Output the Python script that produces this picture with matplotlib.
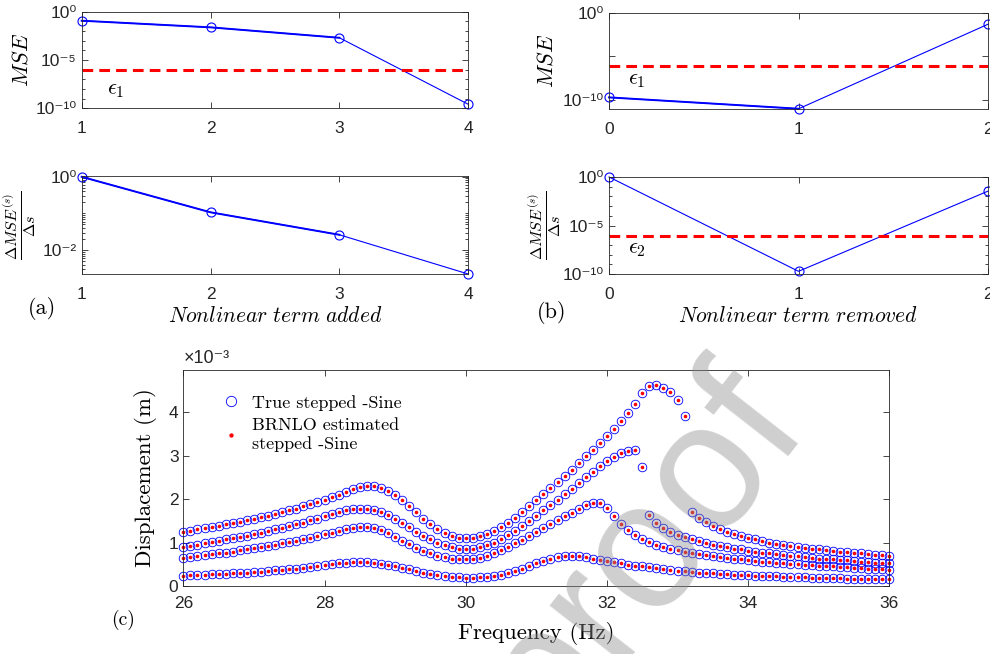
import numpy as np
import matplotlib
matplotlib.use('Agg')
import matplotlib.pyplot as plt
from matplotlib.ticker import LogLocator, NullFormatter, FuncFormatter

plt.rcParams['font.family'] = ['Liberation Sans', 'DejaVu Sans']
plt.rcParams['mathtext.fontset'] = 'cm'

# ---- (a) forward selection ----
added_terms = [1, 2, 3, 4]
mse_added = [0.117, 0.024, 2.0e-3, 2.6e-10]
dmse_added = [1.0, 0.107, 0.026, 0.0022]
eps1_a = 1.0e-6

# ---- (b) backward elimination ----
removed_terms = [0, 1, 2]
mse_removed = [2.0e-10, 1.0e-11, 0.05]
dmse_removed = [1.0, 1.9e-10, 0.035]
eps1_b = 8.5e-7
eps2_b = 8.0e-7

# ---- (c) stepped-sine responses, 0.1 Hz steps from 26 to 36 Hz (x 1e-3 m) ----
freq = np.arange(260, 361) / 10
disp_a = [1.24, 1.27, 1.30, 1.33, 1.36, 1.39, 1.42, 1.45, 1.48, 1.52,
          1.55, 1.59, 1.62, 1.66, 1.70, 1.74, 1.78, 1.83, 1.88, 1.93,
          1.98, 2.04, 2.10, 2.16, 2.22, 2.27, 2.30, 2.29, 2.25, 2.18,
          2.09, 1.98, 1.85, 1.70, 1.55, 1.42, 1.30, 1.21, 1.15, 1.11,
          1.10, 1.11, 1.14, 1.20, 1.27, 1.36, 1.46, 1.57, 1.70, 1.84,
          1.98, 2.12, 2.26, 2.40, 2.54, 2.68, 2.83, 2.98, 3.13, 3.28,
          3.44, 3.61, 3.79, 3.98, 4.19, 4.43, 4.60, 4.63, 4.56, 4.46,
          4.28, 3.90, 1.71, 1.57, 1.47, 1.39, 1.32, 1.25, 1.20, 1.15,
          1.10, 1.07, 1.03, 1.00, 0.97, 0.94, 0.92, 0.90, 0.88, 0.86,
          0.84, 0.82, 0.81, 0.79, 0.78, 0.76, 0.75, 0.74, 0.72, 0.71,
          0.70]
disp_b = [0.89, 0.92, 0.95, 0.98, 1.01, 1.04, 1.07, 1.10, 1.13, 1.16,
          1.19, 1.23, 1.26, 1.30, 1.34, 1.38, 1.42, 1.46, 1.51, 1.55,
          1.60, 1.65, 1.70, 1.74, 1.77, 1.78, 1.78, 1.75, 1.70, 1.63,
          1.55, 1.45, 1.35, 1.25, 1.16, 1.08, 1.00, 0.94, 0.89, 0.86,
          0.85, 0.86, 0.89, 0.94, 1.00, 1.08, 1.17, 1.27, 1.38, 1.50,
          1.62, 1.74, 1.86, 1.98, 2.11, 2.24, 2.37, 2.50, 2.63, 2.76,
          2.87, 2.97, 3.05, 3.11, 3.14, 2.73, 1.63, 1.45, 1.33, 1.25,
          1.18, 1.12, 1.07, 1.03, 0.99, 0.95, 0.92, 0.89, 0.86, 0.84,
          0.81, 0.79, 0.77, 0.75, 0.73, 0.71, 0.69, 0.68, 0.66, 0.65,
          0.63, 0.62, 0.61, 0.60, 0.59, 0.57, 0.56, 0.55, 0.54, 0.53,
          0.52]
disp_c = [0.65, 0.67, 0.69, 0.71, 0.73, 0.75, 0.77, 0.79, 0.82, 0.84,
          0.87, 0.89, 0.92, 0.95, 0.98, 1.01, 1.04, 1.08, 1.11, 1.15,
          1.19, 1.23, 1.27, 1.31, 1.34, 1.36, 1.36, 1.33, 1.28, 1.21,
          1.13, 1.04, 0.96, 0.88, 0.81, 0.75, 0.70, 0.66, 0.63, 0.61,
          0.61, 0.62, 0.65, 0.70, 0.76, 0.83, 0.90, 0.98, 1.06, 1.15,
          1.24, 1.33, 1.42, 1.51, 1.60, 1.69, 1.78, 1.86, 1.92, 1.91,
          1.79, 1.60, 1.42, 1.28, 1.18, 1.09, 1.01, 0.95, 0.90, 0.86,
          0.82, 0.79, 0.76, 0.73, 0.71, 0.68, 0.66, 0.64, 0.62, 0.61,
          0.59, 0.58, 0.56, 0.55, 0.54, 0.52, 0.51, 0.50, 0.49, 0.48,
          0.47, 0.46, 0.45, 0.44, 0.43, 0.42, 0.41, 0.40, 0.39, 0.38,
          0.37]
disp_d = [0.24, 0.25, 0.25, 0.26, 0.27, 0.28, 0.28, 0.29, 0.30, 0.31,
          0.32, 0.33, 0.35, 0.36, 0.37, 0.39, 0.40, 0.42, 0.44, 0.46,
          0.48, 0.50, 0.52, 0.54, 0.55, 0.55, 0.55, 0.53, 0.51, 0.48,
          0.45, 0.41, 0.38, 0.34, 0.31, 0.28, 0.25, 0.23, 0.21, 0.20,
          0.19, 0.19, 0.20, 0.21, 0.23, 0.26, 0.30, 0.35, 0.40, 0.46,
          0.52, 0.58, 0.63, 0.66, 0.68, 0.69, 0.68, 0.66, 0.63, 0.60,
          0.57, 0.55, 0.52, 0.49, 0.47, 0.45, 0.43, 0.41, 0.39, 0.37,
          0.35, 0.34, 0.33, 0.31, 0.30, 0.29, 0.28, 0.27, 0.26, 0.25,
          0.25, 0.24, 0.23, 0.23, 0.22, 0.21, 0.21, 0.20, 0.20, 0.19,
          0.19, 0.18, 0.18, 0.18, 0.17, 0.17, 0.17, 0.16, 0.16, 0.16,
          0.15]
curves = [disp_a, disp_b, disp_c, disp_d]

AXC = '#262626'
SUP = str.maketrans('-0123456789', '⁻⁰¹²³⁴⁵⁶⁷⁸⁹')


def matlab_box(ax, xpad=9):
    for s in ax.spines.values():
        s.set_linewidth(0.6)
        s.set_color(AXC)
    ax.tick_params(which='both', direction='in', top=True, right=True,
                   colors=AXC, labelsize=12.5, width=0.6)
    ax.tick_params(which='major', length=4)
    ax.tick_params(which='minor', length=2)
    ax.tick_params(axis='x', pad=xpad)


def decade_minor(ax):
    ax.yaxis.set_minor_locator(LogLocator(base=10, subs=(1.0,), numticks=30))
    ax.yaxis.set_minor_formatter(NullFormatter())


def log_labels(vals, shown):
    return ['10' + str(int(round(np.log10(v)))).translate(SUP) if s else ''
            for v, s in zip(vals, shown)]


fig = plt.figure(figsize=(9.9, 6.54), dpi=100)
ax1 = fig.add_axes([0.0825, 0.8344, 0.3905, 0.1477])
ax2 = fig.add_axes([0.0825, 0.5810, 0.3905, 0.1503])
ax3 = fig.add_axes([0.6152, 0.8333, 0.3831, 0.1472])
ax4 = fig.add_axes([0.6152, 0.5810, 0.3828, 0.1488])
ax5 = fig.add_axes([0.1852, 0.1040, 0.7131, 0.3303])

mk = dict(marker='o', mfc='none', mec='blue', ms=6.5, mew=0.8, clip_on=False)
frac = r'$\frac{\Delta MSE^{(s)}}{\Delta s}$'

# (a) top: MSE
ax1.semilogy(added_terms, mse_added, color='blue', lw=0.8, **mk)
ax1.semilogy(added_terms[:3], mse_added[:3], color='blue', lw=1.4, clip_on=False)
ax1.axhline(eps1_a, color='red', lw=2.2, dashes=(3.5, 2))
ax1.text(1.2, 10 ** -8.1, r'$\epsilon_1$', fontsize=16, va='center')
ax1.set_xlim(1, 4)
ax1.set_ylim(1e-10, 1)
ax1.set_xticks(added_terms)
yt = [1e-10, 1e-5, 1]
ax1.set_yticks(yt, labels=log_labels(yt, [1, 1, 1]))
decade_minor(ax1)
ax1.set_ylabel(r'$MSE$', fontsize=16, va='center')
ax1.yaxis.set_label_coords(-0.154, 0.5)
matlab_box(ax1)

# (a) bottom: dMSE / ds
ax2.semilogy(added_terms, dmse_added, color='blue', lw=0.8, **mk)
ax2.semilogy(added_terms[:3], dmse_added[:3], color='blue', lw=1.4, clip_on=False)
ax2.set_xlim(1, 4)
ax2.set_ylim(0.0022, 1.07)
ax2.set_xticks(added_terms)
yt2 = [1e-2, 1]
ax2.set_yticks(yt2, labels=log_labels(yt2, [1, 1]))
ax2.yaxis.set_minor_locator(LogLocator(base=10, subs='all', numticks=30))
ax2.yaxis.set_minor_formatter(NullFormatter())
ax2.set_ylabel(frac, fontsize=16.5, va='center')
ax2.yaxis.set_label_coords(-0.16, 0.5)
ax2.set_xlabel(r'$Nonlinear\ term\ added$', fontsize=15.5)
ax2.xaxis.set_label_coords(0.5, -0.33)
matlab_box(ax2)

# (b) top: MSE
ax3.semilogy(removed_terms, mse_removed, color='blue', lw=0.8, **mk)
ax3.semilogy(removed_terms[:2], mse_removed[:2], color='blue', lw=1.4, clip_on=False)
ax3.axhline(eps1_b, color='red', lw=2.2, dashes=(3.5, 2))
ax3.text(0.1, 10 ** -7.6, r'$\epsilon_1$', fontsize=16, va='center')
ax3.set_xlim(0, 2)
ax3.set_ylim(9.3e-12, 1)
ax3.set_xticks(removed_terms)
ax3.set_yticks(yt, labels=log_labels(yt, [1, 0, 1]))
ax3.set_ylabel(r'$MSE$', fontsize=16, va='center')
ax3.yaxis.set_label_coords(-0.163, 0.5)
matlab_box(ax3)

# (b) bottom: dMSE / ds
ax4.semilogy(removed_terms, dmse_removed, color='blue', lw=0.8, **mk)
ax4.axhline(eps2_b, color='red', lw=2.2, dashes=(3.5, 2))
ax4.text(0.1, 10 ** -7.4, r'$\epsilon_2$', fontsize=16, va='center')
ax4.set_xlim(0, 2)
ax4.set_ylim(1e-10, 1.07)
ax4.set_xticks(removed_terms)
ax4.set_yticks(yt, labels=log_labels(yt, [1, 1, 1]))
decade_minor(ax4)
ax4.set_ylabel(frac, fontsize=16.5, va='center')
ax4.yaxis.set_label_coords(-0.17, 0.5)
ax4.set_xlabel(r'$Nonlinear\ term\ removed$', fontsize=15.5)
ax4.xaxis.set_label_coords(0.5, -0.33)
matlab_box(ax4)

# (c) stepped-sine
true_h = []
est_h = []
for c in curves:
    h, = ax5.plot(freq, np.array(c) * 1e-3, 'o', mfc='none', mec='blue',
                  ms=6.2, mew=0.6, clip_on=False)
    true_h.append(h)
for c in curves:
    h, = ax5.plot(freq, np.array(c) * 1e-3, 'o', color='red', mec='none',
                  ms=2.6, clip_on=False)
    est_h.append(h)
ax5.set_xlim(26, 36)
ax5.set_ylim(0, 4.97e-3)
ax5.set_xticks([26, 28, 30, 32, 34, 36])
ax5.set_yticks(np.array([0, 1, 2, 3, 4]) * 1e-3)
ax5.yaxis.set_major_formatter(FuncFormatter(lambda v, p: '%g' % round(v * 1e3, 6)))
matlab_box(ax5, xpad=7)
ax5.text(0.0, 1.015, '×10' + '-3'.translate(SUP), transform=ax5.transAxes,
         fontsize=13, color=AXC, ha='left', va='bottom')
ax5.set_ylabel('Displacement (m)', family='cmr10', fontsize=16.5, va='center')
ax5.yaxis.set_label_coords(-0.054, 0.5)
ax5.set_xlabel('Frequency (Hz)', family='cmr10', fontsize=16.5)
ax5.xaxis.set_label_coords(0.5, -0.165)
ax5.legend([true_h[0], est_h[0]],
           ['True stepped -Sine', 'BRNLO estimated\nstepped -Sine'],
           loc='upper left', bbox_to_anchor=(0.031, 0.96), frameon=False,
           prop={'family': 'cmr10', 'size': 13}, handlelength=1.0,
           handletextpad=0.7, labelspacing=0.4, markerscale=1.2)

fig.text(42 / 990, 1 - 308 / 654, '(a)', family='cmr10', fontsize=16,
         ha='center', va='center')
fig.text(552 / 990, 1 - 312 / 654, '(b)', family='cmr10', fontsize=16,
         ha='center', va='center')
fig.text(123 / 990, 1 - 620 / 654, '(c)', family='cmr10', fontsize=14,
         ha='center', va='center')

# watermark
fig.text(642 / 990, 1 - 552 / 654, 'proof', fontsize=130, color='0.55',
         alpha=0.42, rotation=52, rotation_mode='anchor', ha='center',
         va='center', zorder=10)

fig.savefig('out.png', dpi=100)
